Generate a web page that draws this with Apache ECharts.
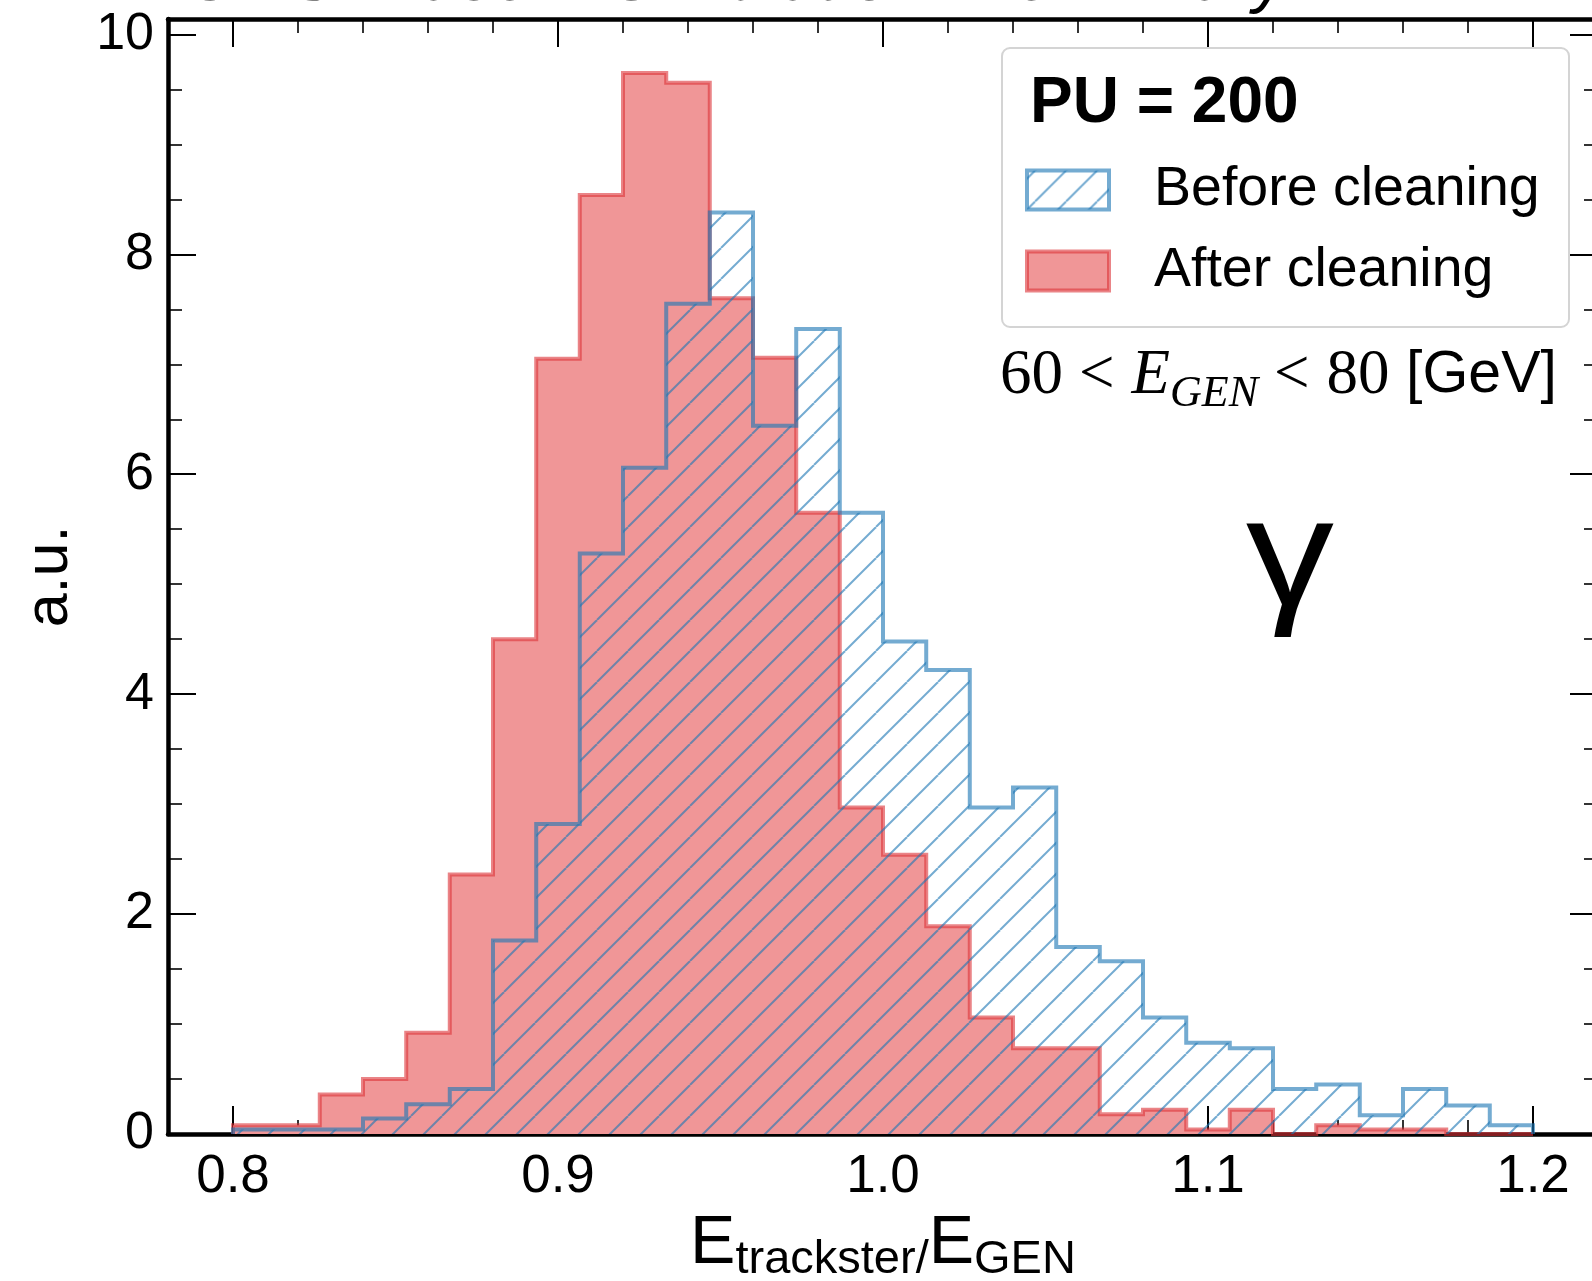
<!DOCTYPE html>
<html><head><meta charset="utf-8">
<script src="https://cdn.jsdelivr.net/npm/echarts@6/dist/echarts.min.js"></script>
<style>html,body{margin:0;padding:0;background:#fff}#c{width:1592px;height:1281px}</style>
</head><body><div id="c"></div><script>
// ---- data ----
const binEdges = [0.8000,0.8133,0.8267,0.8400,0.8533,0.8667,0.8800,0.8933,0.9067,0.9200,
  0.9333,0.9467,0.9600,0.9733,0.9867,1.0000,1.0133,1.0267,1.0400,1.0533,
  1.0667,1.0800,1.0933,1.1067,1.1200,1.1333,1.1467,1.1600,1.1733,1.1867,1.2000];
const beforeCleaning = [0.04,0.04,0.04,0.14,0.27,0.41,1.76,2.82,5.28,6.06,
  7.55,8.38,6.44,7.32,5.65,4.48,4.22,2.97,3.15,1.70,
  1.57,1.06,0.83,0.78,0.41,0.45,0.17,0.41,0.26,0.08];
const afterCleaning = [0.08,0.08,0.36,0.50,0.92,2.36,4.50,7.05,8.54,9.65,
  9.56,7.60,7.06,5.65,2.97,2.54,1.89,1.06,0.78,0.78,
  0.18,0.22,0.04,0.22,0.00,0.08,0.04,0.04,0.00,0.00];
const xMajorTicks = [0.8,0.9,1.0,1.1,1.2];
const xMinorTicks = [0.82,0.84,0.86,0.88,0.92,0.94,0.96,0.98,1.02,1.04,1.06,1.08,1.12,1.14,1.16,1.18];
const yMajorTicks = [0,2,4,6,8,10];
const yMinorTicks = [0.5,1,1.5,2.5,3,3.5,4.5,5,5.5,6.5,7,7.5,8.5,9,9.5];
const seriesNames = ['Before cleaning','After cleaning'];

// ---- styles ----
const SANS = 'Liberation Sans';
const SERIF = 'Liberation Serif';
const BLUE = 'rgba(31,119,180,0.62)';
const RED_FILL = '#F09697';
const RED_EDGE = 'rgba(220,50,55,0.6)';

function hatchCanvas(s, color, w) {
  const c = document.createElement('canvas');
  c.width = s; c.height = s;
  const ctx = c.getContext('2d');
  ctx.strokeStyle = color; ctx.lineWidth = w;
  for (let k = -1; k <= 1; k++) {
    ctx.beginPath(); ctx.moveTo(k * s, s); ctx.lineTo(k * s + s, 0); ctx.stroke();
  }
  return c;
}
const hatch = { image: hatchCanvas(31, BLUE, 2), repeat: 'repeat', x: 8, y: 0 };

function stepData(edges, vals) {
  const d = [[edges[0], 0]];
  for (let i = 0; i < vals.length; i++) d.push([edges[i], vals[i]]);
  d.push([edges[edges.length - 1], vals[vals.length - 1]]);
  d.push([edges[edges.length - 1], 0]);
  return d;
}

const XMIN = 0.78, XMAX = 1.22, YMIN = 0, YMAX = 10.14;
const lineSt = { color: '#000', width: 4.5 };
function xAx(pos, ticks, len, major, extra) {
  return Object.assign({
    type: 'value', position: pos, min: XMIN, max: XMAX,
    axisLine: { show: major, onZero: false, lineStyle: lineSt },
    axisTick: { show: true, inside: true, length: len, customValues: ticks,
      lineStyle: { color: '#000', width: major ? 2 : 1.6 } },
    axisLabel: { show: false },
    splitLine: { show: false }, minorTick: { show: false }
  }, extra || {});
}
function yAx(pos, ticks, len, major, extra) {
  return Object.assign({
    type: 'value', position: pos, min: YMIN, max: YMAX,
    axisLine: { show: major, onZero: false, lineStyle: lineSt },
    axisTick: { show: true, inside: true, length: len, customValues: ticks,
      lineStyle: { color: '#000', width: major ? 2 : 1.6 } },
    axisLabel: { show: false },
    splitLine: { show: false }, minorTick: { show: false }
  }, extra || {});
}

const chart = echarts.init(document.getElementById('c'), null, { renderer: 'canvas' });
chart.setOption({
  animation: false,
  backgroundColor: '#fff',
  textStyle: { fontFamily: SANS, color: '#000' },
  grid: { left: 168, top: 19, width: 1430, height: 1115, containLabel: false, outerBoundsMode: 'none' },
  xAxis: [
    xAx('bottom', xMajorTicks, 28, true, {
      axisLabel: { show: true, customValues: xMajorTicks, formatter: v => v.toFixed(1),
        fontSize: 53, color: '#000', fontFamily: SANS, margin: 17 },
      name: '{m|E}{s|trackster/}{m|E}{s|GEN}',
      nameLocation: 'middle', nameGap: 71, nameMoveOverlap: false,
      nameTextStyle: { color: '#000', rich: {
        m: { fontSize: 68, fontFamily: SANS, color: '#000' },
        s: { fontSize: 47, fontFamily: SANS, color: '#000', padding: [32, 0, 0, 0] }
      } }
    }),
    xAx('bottom', xMinorTicks, 14, false),
    xAx('top', xMajorTicks, 28, true),
    xAx('top', xMinorTicks, 14, false)
  ],
  yAxis: [
    yAx('left', yMajorTicks, 28, true, {
      axisLabel: { show: true, customValues: yMajorTicks, formatter: v => String(v),
        fontSize: 52, color: '#000', fontFamily: SANS, margin: 14 },
      name: 'a.u.', nameLocation: 'middle', nameRotate: 90, nameGap: 87, nameMoveOverlap: false,
      nameTextStyle: { fontSize: 61, fontFamily: SANS, color: '#000' }
    }),
    yAx('left', yMinorTicks, 14, false),
    yAx('right', yMajorTicks, 28, true),
    yAx('right', yMinorTicks, 14, false)
  ],
  legend: {
    left: 1025, top: 162, orient: 'vertical', padding: 0, itemGap: 25,
    itemWidth: 82, itemHeight: 39, selectedMode: false, z: 11,
    textStyle: { fontSize: 55.5, fontFamily: SANS, color: '#000', padding: [6, 0, 0, 40] },
    data: [
      { name: seriesNames[0], icon: 'rect', itemStyle: { color: hatch, borderColor: BLUE, borderWidth: 4 } },
      { name: seriesNames[1], icon: 'rect', itemStyle: { color: RED_FILL, borderColor: RED_EDGE, borderWidth: 4 } }
    ]
  },
  series: [
    { name: seriesNames[1], type: 'line', step: 'end', data: stepData(binEdges, afterCleaning),
      xAxisIndex: 0, yAxisIndex: 0, symbol: 'none', showSymbol: false, z: 2,
      lineStyle: { color: RED_EDGE, width: 4, join: 'miter', cap: 'butt' },
      itemStyle: { color: RED_FILL },
      areaStyle: { color: RED_FILL, opacity: 1 }, emphasis: { disabled: true } },
    { name: seriesNames[0], type: 'line', step: 'end', data: stepData(binEdges, beforeCleaning),
      xAxisIndex: 0, yAxisIndex: 0, symbol: 'none', showSymbol: false, z: 3,
      lineStyle: { color: BLUE, width: 4, join: 'miter', cap: 'butt' },
      itemStyle: { color: BLUE },
      areaStyle: { color: hatch, opacity: 1 }, emphasis: { disabled: true } }
  ],
  graphic: [
    { type: 'rect', z: 10, shape: { x: 1002, y: 48, width: 567, height: 279, r: 8 },
      style: { fill: '#fff', stroke: '#d4d4d4', lineWidth: 2 } },
    { type: 'text', z: 12, x: 1030, y: 104,
      style: { text: 'PU = 200', fontSize: 64, fontWeight: 'bold', fontFamily: SANS, fill: '#000', verticalAlign: 'middle' } },
    { type: 'text', z: 12, x: 1000, y: 376,
      style: { text: '{n|60}{lt|<}{e|E}{g|GEN}{lt|<}{n|80}{sp| }{s|[GeV]}', verticalAlign: 'middle', fill: '#000',
        rich: {
          n: { fontFamily: SERIF, fontSize: 63, fill: '#000' },
          lt: { fontFamily: SERIF, fontSize: 63, fill: '#000', padding: [0, 17, 0, 16] },
          e: { fontFamily: SERIF, fontStyle: 'italic', fontSize: 63, fill: '#000' },
          g: { fontFamily: SERIF, fontStyle: 'italic', fontSize: 44, fill: '#000', padding: [36, 0, 0, 0] },
          sp: { fontFamily: SERIF, fontSize: 66, fill: '#000' },
          s: { fontFamily: SANS, fontSize: 59, fill: '#000' }
        } } },
    { type: 'text', z: 12, x: 1290, y: 563, scaleX: 1.14, scaleY: 0.99,
      style: { text: 'γ', fontSize: 155, fontFamily: SANS, fill: '#000', align: 'center', verticalAlign: 'middle' } },
    { type: 'text', z: 12, x: 184, y: 15,
      style: { text: '{b|CMS} {i|Phase-2 Simulation Preliminary}', verticalAlign: 'bottom', fill: '#000',
        rich: {
          b: { fontFamily: SANS, fontWeight: 'bold', fontSize: 68, fill: '#000' },
          i: { fontFamily: SANS, fontStyle: 'italic', fontSize: 68, fill: '#000' }
        } } }
  ]
});
</script></body></html>
